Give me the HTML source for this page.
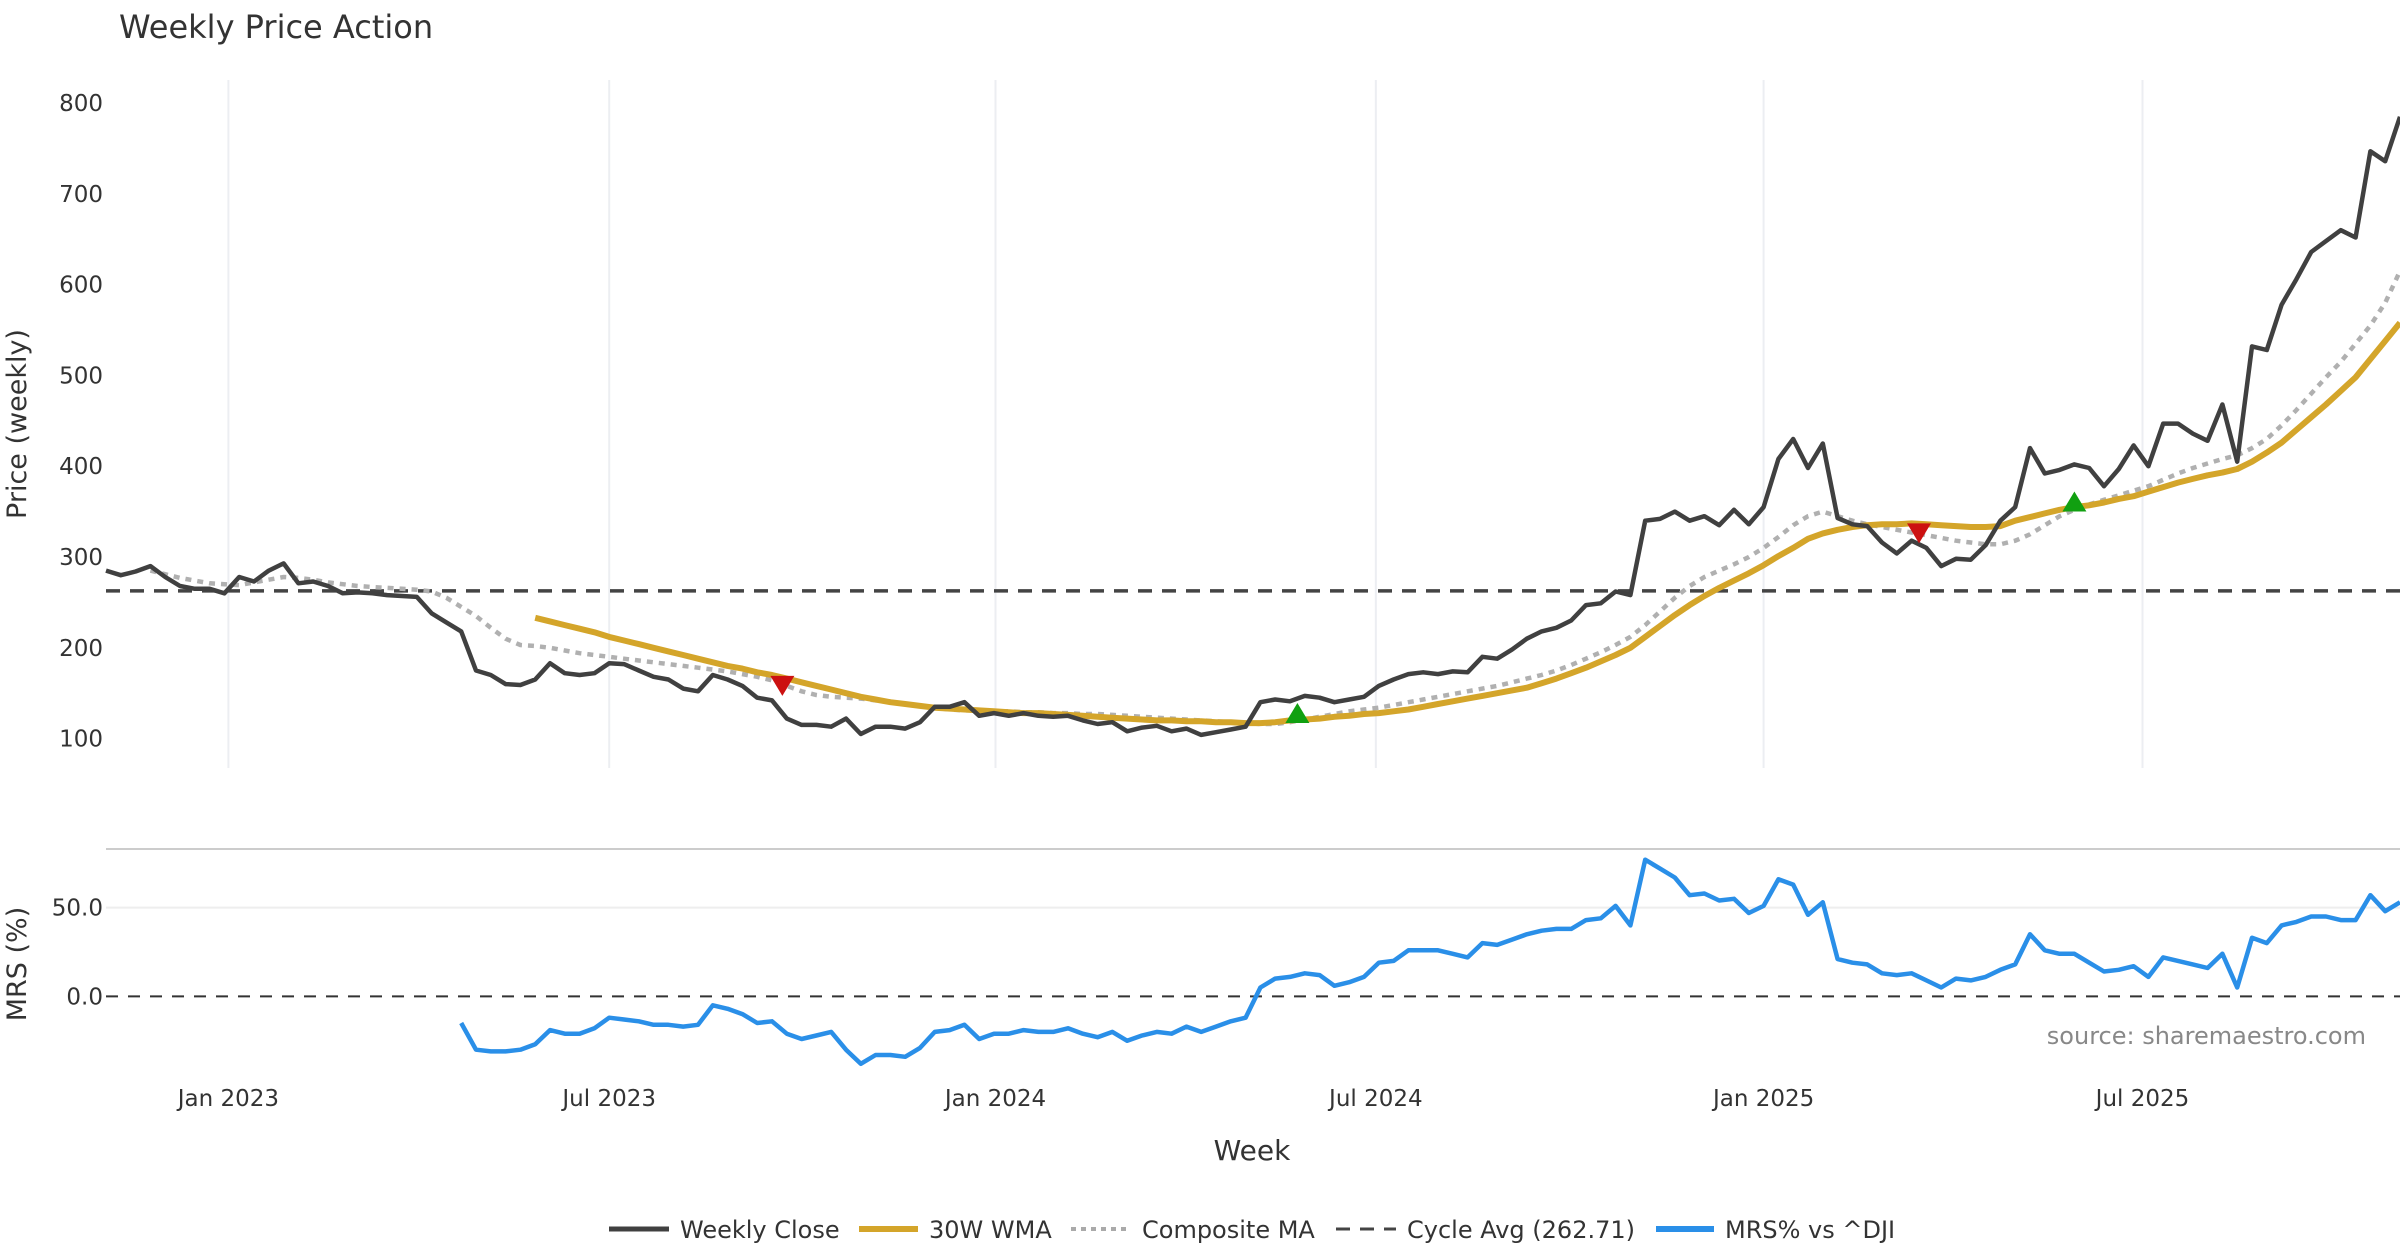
<!DOCTYPE html>
<html><head><meta charset="utf-8"><style>
html,body{margin:0;padding:0;background:#fff;}
svg{display:block;font-family:"DejaVu Sans","Liberation Sans",sans-serif;}
</style></head><body>
<svg id="chart" width="2400" height="1260" viewBox="0 0 2400 1260" xmlns="http://www.w3.org/2000/svg">
<rect width="2400" height="1260" fill="#fff"/>
<text x="119" y="38" font-size="32" fill="#333">Weekly Price Action</text>
<text transform="translate(26,424) rotate(-90)" text-anchor="middle" font-size="27" fill="#333">Price (weekly)</text>
<text transform="translate(26,964) rotate(-90)" text-anchor="middle" font-size="27" fill="#333">MRS (%)</text>
<text x="1252" y="1160" text-anchor="middle" font-size="28" fill="#333">Week</text>
<text x="2366" y="1044" text-anchor="end" font-size="24" fill="#888">source: sharemaestro.com</text>
<line x1="106" y1="849" x2="2400" y2="849" stroke="#ccc" stroke-width="2"/>
<g id="grid"></g><g id="marks"></g>
<g font-size="24" fill="#333">
<g><line x1="609" y1="1229" x2="669" y2="1229" stroke="#404040" stroke-width="5"/><text x="680" y="1238">Weekly Close</text></g>
<g><line x1="859" y1="1229" x2="918" y2="1229" stroke="#d4a52a" stroke-width="6"/><text x="929" y="1238">30W WMA</text></g>
<g><line x1="1071" y1="1229" x2="1130" y2="1229" stroke="#aaa" stroke-width="4" stroke-dasharray="5,5"/><text x="1142" y="1238">Composite MA</text></g>
<g><line x1="1336" y1="1229" x2="1396" y2="1229" stroke="#444" stroke-width="3" stroke-dasharray="14,10"/><text x="1407" y="1238">Cycle Avg (262.71)</text></g>
<g><line x1="1656" y1="1229" x2="1714" y2="1229" stroke="#2a8fe8" stroke-width="6"/><text x="1725" y="1238">MRS% vs ^DJI</text></g>
</g>
</svg>
<script>
const closeVals=[285,280,284,290,278,268,265,265,260,278,273,285,293,271,273,268,260,261,260,258,257,256,238,228,218,175,170,160,159,165,183,172,170,172,183,182,175,168,165,155,152,170,165,158,145,142,122,115,115,113,122,105,113,113,111,118,135,135,140,125,128,125,128,125,124,125,120,116,118,108,112,114,108,111,104,107,110,113,140,143,141,147,145,140,143,146,158,165,171,173,171,174,173,190,188,198,210,218,222,230,247,249,262,258,340,342,350,340,345,335,352,336,355,408,430,398,425,343,336,334,316,304,318,310,290,298,297,313,340,355,420,392,396,402,398,378,397,423,400,447,447,436,428,468,405,532,528,578,606,636,648,660,652,747,736,785];
const wmaVals=[233,229,225,221,217,212,208,204,200,196,192,188,184,180,177,173,170,166,162,158,154,150,146,143,140,138,136,134,133,132,131,130,129,128,128,127,126,125,124,123,122,121,120,120,119,119,118,118,117,117,118,120,121,122,124,125,127,128,130,132,135,138,141,144,147,150,153,156,161,166,172,178,185,192,200,212,224,236,247,257,266,274,282,291,301,310,320,326,330,333,335,336,336,337,336,335,334,333,333,334,340,344,348,352,355,357,360,364,367,372,377,382,386,390,393,397,405,415,426,440,454,468,483,498,518,538,558];
const maVals=[285,281,277,274,271,270,269,272,275,278,277,275,272,270,268,267,266,265,264,262,255,245,235,222,210,203,202,200,197,194,192,190,188,186,184,182,180,178,176,174,171,168,164,158,152,148,146,145,144,142,140,138,136,134,132,131,131,130,130,129,129,128,128,127,127,126,125,124,123,122,121,120,119,118,117,116,116,118,121,124,127,130,132,134,137,140,143,146,149,152,155,158,162,166,170,175,181,188,195,203,212,225,240,255,268,278,285,292,300,310,322,335,345,350,345,340,336,333,330,327,324,321,318,316,314,314,318,325,335,345,352,358,363,368,373,378,385,392,398,403,408,412,420,430,445,462,480,498,515,535,555,580,615];
const mrsVals=[-15,-30,-31,-31,-30,-27,-19,-21,-21,-18,-12,-13,-14,-16,-16,-17,-16,-5,-7,-10,-15,-14,-21,-24,-22,-20,-30,-38,-33,-33,-34,-29,-20,-19,-16,-24,-21,-21,-19,-20,-20,-18,-21,-23,-20,-25,-22,-20,-21,-17,-20,-17,-14,-12,5,10,11,13,12,6,8,11,19,20,26,26,26,24,22,30,29,32,35,37,38,38,43,44,51,40,77,72,67,57,58,54,55,47,51,66,63,46,53,21,19,18,13,12,13,9,5,10,9,11,15,18,35,26,24,24,19,14,15,17,11,22,20,18,16,24,5,33,30,40,42,45,45,43,43,57,48,53];
const sellIdx=[45.7,122.5], sellPrice=[158,326];
const buyIdx=[80.5,133], buyPrice=[127,360];
const cycleAvg=262.71;
const priceTicks=[100,200,300,400,500,600,700,800];
const mrsTicks=[0,50];
const xTickPos=[8.27,34.0,60.1,85.8,112.0,137.6];
const xTickLabels=["Jan 2023","Jul 2023","Jan 2024","Jul 2024","Jan 2025","Jul 2025"];

const N=closeVals.length;
const X0=106,X1=2400;
const xs=i=>X0+i*(X1-X0)/(N-1);
const yP=p=>557-(p-300)*0.9077;
const yM=v=>996.4-v*1.775;
const NS="http://www.w3.org/2000/svg";
const grid=document.getElementById('grid'),marks=document.getElementById('marks');
function mk(tag,attrs,parent){const e=document.createElementNS(NS,tag);for(const k in attrs)e.setAttribute(k,attrs[k]);parent.appendChild(e);return e;}
xTickPos.forEach((t,k)=>{
  const g=mk('line',{x1:xs(t),x2:xs(t),y1:80,y2:768,stroke:'#eceef2','stroke-width':2},grid);
  
  
  const tx=mk('text',{x:xs(t),y:1106,'text-anchor':'middle','font-size':23,fill:'#333'},grid);
  tx.textContent=xTickLabels[k];
  
  
});
priceTicks.forEach(p=>{
  const tx=mk('text',{x:103,y:yP(p)+8,'text-anchor':'end','font-size':23,fill:'#333'},grid);
  tx.textContent=p;
  
  
});
mrsTicks.forEach(v=>{
  if(v!==0){const l=mk('line',{x1:X0,x2:X1,y1:yM(v),y2:yM(v),stroke:'#eee','stroke-width':2},grid);
  
  }
  const tx=mk('text',{x:103,y:yM(v)+8,'text-anchor':'end','font-size':23,fill:'#333'},grid);
  tx.textContent=v.toFixed(1);
  
  
});
function path(vals,off,yf){return vals.map((v,i)=>(i?'L':'M')+xs(i+off).toFixed(1)+','+yf(v).toFixed(1)).join('');}
const cyc=mk('line',{x1:X0,x2:X1,y1:yP(cycleAvg),y2:yP(cycleAvg),stroke:'#444','stroke-width':3.5,'stroke-dasharray':'14,10'},marks);


const z=mk('line',{x1:X0,x2:X1,y1:yM(0),y2:yM(0),stroke:'#333','stroke-width':2,'stroke-dasharray':'12,10'},marks);


const ma=mk('path',{d:path(maVals,N-maVals.length,yP),fill:'none',stroke:'#b0b0b0','stroke-width':4.5,'stroke-dasharray':'6,6'},marks);


const wma=mk('path',{d:path(wmaVals,N-wmaVals.length,yP),fill:'none',stroke:'#d4a52a','stroke-width':6,'stroke-linejoin':'round'},marks);


const cl=mk('path',{d:path(closeVals,0,yP),fill:'none',stroke:'#404040','stroke-width':4.5,'stroke-linejoin':'round'},marks);


const mr=mk('path',{d:path(mrsVals,N-mrsVals.length,yM),fill:'none',stroke:'#2a8fe8','stroke-width':4.5,'stroke-linejoin':'round'},marks);


sellIdx.forEach((ix,k)=>{const x=xs(ix),y=yP(sellPrice[k]);
  const t=mk('polygon',{points:`${x-12},${y-10} ${x+12},${y-10} ${x},${y+10}`,fill:'#cc1111'},marks);
  
  });
buyIdx.forEach((ix,k)=>{const x=xs(ix),y=yP(buyPrice[k]);
  const t=mk('polygon',{points:`${x-12},${y+9} ${x+12},${y+9} ${x},${y-11}`,fill:'#11a011'},marks);
  
  });
</script>
</body></html>
